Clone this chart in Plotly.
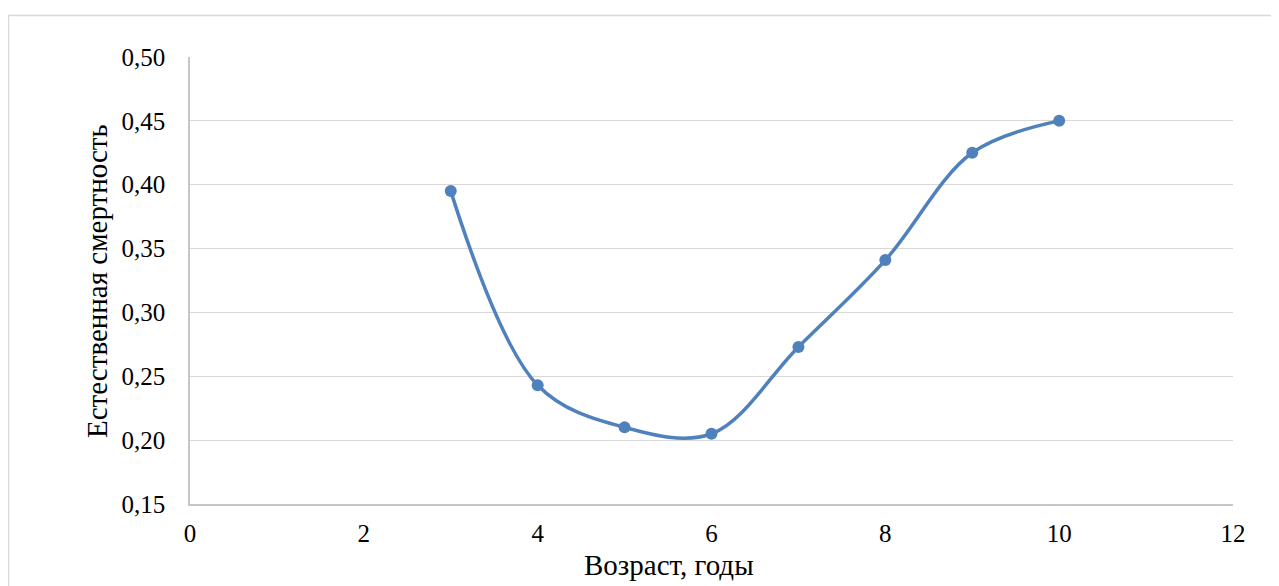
import plotly.graph_objects as go

age = [3, 4, 5, 6, 7, 8, 9, 10]
mortality = [0.395, 0.243, 0.210, 0.205, 0.273, 0.341, 0.425, 0.450]
x_ticks = [0, 2, 4, 6, 8, 10, 12]
y_ticks = [0.15, 0.20, 0.25, 0.30, 0.35, 0.40, 0.45, 0.50]
x_title = "Возраст, годы"
y_title = "Естественная смертность"

# page has an 8px body margin; figure drawn at (8, 8)
OFF = 8
W, H = 1279, 586
L = 190 - OFF
T = 57 - OFF
R = W - (1233 - OFF)
B = H - (504 - OFF)
pw, ph = W - L - R, H - T - B

def px(xpage):
    return (xpage - OFF - L) / pw

def py(ypage):
    return (H - B - (ypage - OFF)) / ph

tick_font = dict(family="Liberation Serif, Times New Roman, serif", size=25, color="#000000")
title_font = dict(family="Liberation Serif, Times New Roman, serif", size=29, color="#000000")
blue = "#4F81BD"

fig = go.Figure()
fig.add_trace(go.Scatter(
    x=age, y=mortality, mode="lines+markers",
    line=dict(color=blue, width=3.5, shape="spline", smoothing=1.0),
    marker=dict(color=blue, size=12),
    showlegend=False,
))

fig.update_layout(
    width=W, height=H,
    margin=dict(l=L, r=R, t=T, b=B),
    paper_bgcolor="white", plot_bgcolor="white",
    separators=", ",
    font=tick_font,
    xaxis=dict(
        range=[0, 12], tickvals=x_ticks, ticktext=[str(v) for v in x_ticks],
        showgrid=False, zeroline=False,
        showline=True, linecolor="#C6C6C6", linewidth=1.5,
        ticks="", ticklabelstandoff=6, tickfont=tick_font,
    ),
    yaxis=dict(
        range=[0.15, 0.50], tickvals=y_ticks, tickformat=".2f",
        showgrid=True, gridcolor="#D9D9D9", gridwidth=1.3, zeroline=False,
        showline=True, linecolor="#C6C6C6", linewidth=1.5,
        ticks="", ticklabelstandoff=18, tickfont=tick_font,
    ),
    shapes=[dict(
        type="rect", xref="paper", yref="paper",
        x0=px(8.5), x1=px(1300), y0=py(620), y1=py(15.5),
        line=dict(color="#D9D9D9", width=1.5), fillcolor="rgba(0,0,0,0)", layer="below",
    )],
    annotations=[
        dict(text=x_title, xref="paper", yref="paper", x=px(669), y=py(565),
             showarrow=False, font=title_font, xanchor="center", yanchor="middle"),
        dict(text=y_title, xref="paper", yref="paper", x=px(97), y=py(281),
             showarrow=False, font=title_font, textangle=-90, xanchor="center", yanchor="middle"),
    ],
)

fig.write_html("out.html")
